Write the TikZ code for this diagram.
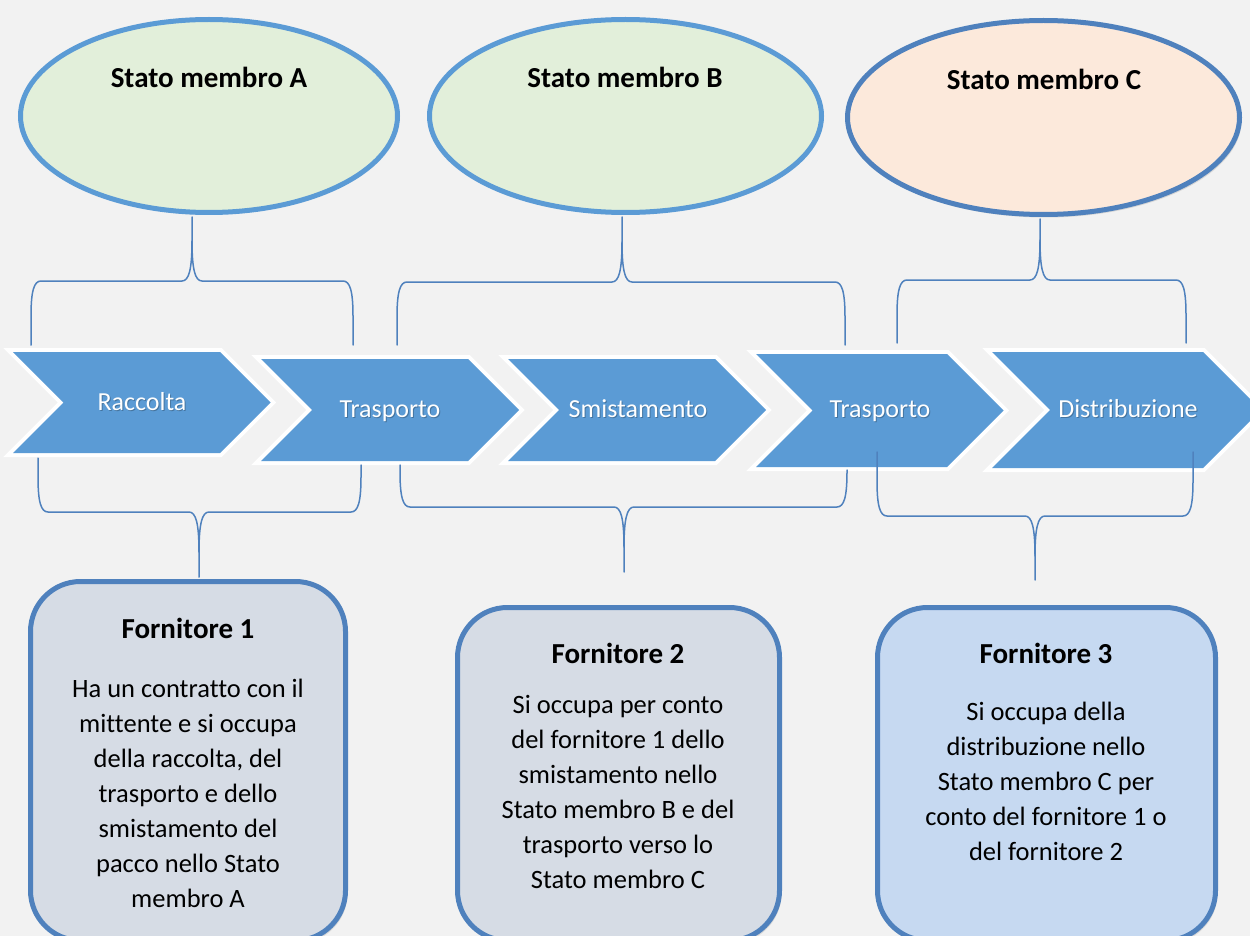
\documentclass[tikz,border=0pt]{standalone}
\usepackage{fontspec}
\setmainfont{Carlito}[Ligatures=CommonOff]
\usetikzlibrary{shapes.geometric,shadows}
\definecolor{bgc}{HTML}{F2F2F2}
\definecolor{chevc}{HTML}{5B9BD5}
\definecolor{ellstroke}{HTML}{5B9BD5}
\definecolor{ellstrokeC}{HTML}{4F81BD}
\definecolor{ellgreen}{HTML}{E2EFDA}
\definecolor{ellpeach}{HTML}{FCE9DB}
\definecolor{boxstroke}{HTML}{4F81BD}
\definecolor{boxgray}{HTML}{D6DCE5}
\definecolor{boxblue}{HTML}{C6D9F1}
\definecolor{bracec}{HTML}{4F81BD}
\newcommand\mychev[4]{% L R top bottom
  \path[fill=chevc, preaction={draw=white, line width=8, line join=miter}]
    (#1,#3) -- (#2,#3) -- ({#2+(#4-#3)/2},{(#3+#4)/2}) -- (#2,#4) -- (#1,#4)
    -- ({#1+(#4-#3)/2},{(#3+#4)/2}) -- cycle;
}
\newcommand\topbrace[6]{% L R T ya yh yend
  \draw[bracestyle] (#1,#4) -- (#1,{#5+35}) .. controls (#1,{#5+10}) and ({#1+3},#5) .. ({#1+10},#5)
    -- ({#3-10},#5) .. controls ({#3-3},#5) and (#3,{#5-12}) .. (#3,{#5-40}) -- (#3,#6);
  \draw[bracestyle] (#2,#4) -- (#2,{#5+35}) .. controls (#2,{#5+10}) and ({#2-3},#5) .. ({#2-10},#5)
    -- ({#3+10},#5) .. controls ({#3+3},#5) and (#3,{#5-12}) .. (#3,{#5-40});
}
\newcommand\botbrace[7]{% L yaL R yaR T yh yend
  \draw[bracestyle] (#1,#2) -- (#1,{#6-35}) .. controls (#1,{#6-10}) and ({#1+3},#6) .. ({#1+10},#6)
    -- ({#5-10},#6) .. controls ({#5-3},#6) and (#5,{#6+12}) .. (#5,{#6+40}) -- (#5,#7);
  \draw[bracestyle] (#3,#4) -- (#3,{#6-35}) .. controls (#3,{#6-10}) and ({#3-3},#6) .. ({#3-10},#6)
    -- ({#5+10},#6) .. controls ({#5+3},#6) and (#5,{#6+12}) .. (#5,{#6+40});
}
\begin{document}
\begin{tikzpicture}[x=1pt,y=-1pt,
  bracestyle/.style={draw=bracec, line width=1.5, line cap=round},
  ellnode/.style={ellipse, draw=ellstroke, fill=ellgreen, line width=5, inner sep=0},
  titletext/.style={anchor=base, inner sep=0, font=\fontsize{29}{35}\selectfont\bfseries},
  chevtext/.style={anchor=base, inner sep=0, text=white, font=\fontsize{26}{30}\selectfont},
  chevshadow/.style={anchor=base, inner sep=0, text=black, opacity=0.25, font=\fontsize{26}{30}\selectfont},
  boxnode/.style={draw=boxstroke, line width=5, rounded corners=50, inner sep=0,
    drop shadow={shadow xshift=2pt, shadow yshift=-3pt, opacity=0.22}},
  bodytext/.style={anchor=base, inner sep=0, font=\fontsize{26.5}{35}\selectfont}]
\useasboundingbox (0,0) rectangle (1250,936);
\fill[bgc] (0,0) rectangle (1250,936);
\begin{scope}
\clip (0,0) rectangle (1250,936);
% ellipses
\node[ellnode, minimum width=377, minimum height=193] (eA) at (209,116) {};
\node[ellnode, minimum width=392, minimum height=193] (eB) at (625.5,116) {};
\node[ellnode, draw=ellstrokeC, fill=ellpeach, minimum width=392, minimum height=194,
  drop shadow={shadow xshift=2pt, shadow yshift=-3pt, opacity=0.25}] (eC) at (1043.5,117.5) {};
\node[titletext] (tA) at (209,88) {Stato membro A};
\node[titletext] (tB) at (625,88) {Stato membro B};
\node[titletext] (tC) at (1044,90) {Stato membro C};
% chevrons
\mychev{13}{220}{352}{453}
\mychev{261}{468}{359}{461}
\mychev{508}{715}{359}{461}
\mychev{756}{947}{354}{467}
\mychev{992}{1203}{352}{468}
\node[chevshadow] at (143,411) {Raccolta};
\node[chevshadow] at (391,418) {Trasporto};
\node[chevshadow] at (639,418) {Smistamento};
\node[chevshadow] at (881,418) {Trasporto};
\node[chevshadow] at (1129,418) {Distribuzione};
\node[chevtext] (c1) at (142,410) {Raccolta};
\node[chevtext] (c2) at (390,417) {Trasporto};
\node[chevtext] (c3) at (638,417) {Smistamento};
\node[chevtext] (c4) at (880,417) {Trasporto};
\node[chevtext] (c5) at (1128,417) {Distribuzione};
% braces
\topbrace{31}{353}{192}{345}{281}{217}
\topbrace{397}{845}{622}{345}{282}{217}
\topbrace{897}{1186}{1040}{343}{280}{219}
\botbrace{38}{458}{361}{465}{199}{512}{577}
\botbrace{400}{465}{847}{470}{624}{507}{572}
\botbrace{877}{452}{1193}{452}{1035}{516}{580}
% boxes
\node[boxnode, fill=boxgray, minimum width=315, minimum height=359] (f1) at (188,761) {};
\node[boxnode, fill=boxgray, minimum width=322, minimum height=333] (f2) at (618.5,774) {};
\node[boxnode, fill=boxblue, minimum width=338, minimum height=333] (f3) at (1046.5,774) {};
\node[titletext] (f1t) at (188,638) {Fornitore 1};
\node[titletext] (f2t) at (618,663) {Fornitore 2};
\node[titletext] (f3t) at (1046,663) {Fornitore 3};
\node[bodytext] (f1b) at (188,697) {\begin{tabular}[t]{@{}c@{}}Ha un contratto con il\\mittente e si occupa\\della raccolta, del\\trasporto e dello\\smistamento del\\pacco nello Stato\\membro A\end{tabular}};
\node[bodytext] (f2b) at (618,713) {\begin{tabular}[t]{@{}c@{}}Si occupa per conto\\del fornitore 1 dello\\smistamento nello\\Stato membro B e del\\trasporto verso lo\\Stato membro C\end{tabular}};
\node[bodytext] (f3b) at (1046,720) {\begin{tabular}[t]{@{}c@{}}Si occupa della\\distribuzione nello\\Stato membro C per\\conto del fornitore 1 o\\del fornitore 2\end{tabular}};
\end{scope}
\end{tikzpicture}
\end{document}
